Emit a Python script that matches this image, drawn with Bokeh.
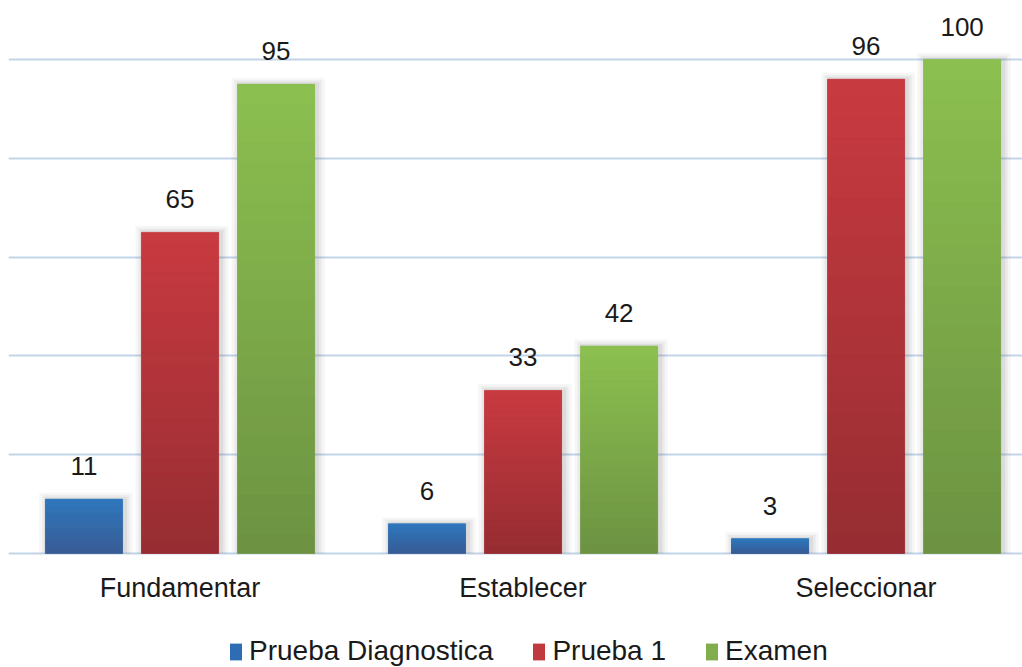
from bokeh.plotting import figure
from bokeh.models import (Range1d, FixedTicker, Grid, ColumnDataSource, LabelSet,
                          Legend, LegendItem)
from bokeh.core.properties import value
from bokeh.embed import file_html
from bokeh.resources import INLINE

categories = ["Fundamentar", "Establecer", "Seleccionar"]
series = ["Prueba Diagnostica", "Prueba 1", "Examen"]
prueba_diagnostica = [11, 6, 3]
prueba_1 = [65, 33, 96]
examen = [95, 42, 100]
grid_ticks = [0, 20, 40, 60, 80, 100]

values = [prueba_diagnostica, prueba_1, examen]
top_colors = [(47, 120, 190), (200, 58, 64), (140, 192, 80)]
bottom_colors = [(58, 92, 148), (150, 45, 50), (108, 146, 66)]
mid_colors = ["#2E6DB4", "#C0393F", "#80AE4C"]
offsets = [-0.28, 0.0, 0.28]
bar_w = 0.225
N = 24

FONT = "Liberation Sans"
TXT = "#1a1a1a"

p = figure(width=1022, height=667, output_backend="svg", toolbar_location=None,
           x_range=Range1d(0, 2.956), y_range=Range1d(-23.08, 109.92),
           x_axis_location=None, y_axis_location=None,
           min_border_left=8, min_border_right=0,
           min_border_top=10, min_border_bottom=0, outline_line_color=None)
p.xgrid.visible = False
p.ygrid.visible = False
p.add_layout(Grid(dimension=1, ticker=FixedTicker(ticks=grid_ticks),
                  grid_line_color="#C3D4E9", grid_line_width=2.2), "center")

def hexc(c):
    return "#%02x%02x%02x" % tuple(int(round(v)) for v in c)

legend_items = []
px_x = 1 / 343.0
px_y = 1 / 4.94
for s, (name, vals) in enumerate(zip(series, values)):
    xs = [i + 0.5 + offsets[s] for i in range(len(categories))]
    for dw, a in [(16, 0.05), (10, 0.07), (5, 0.09)]:
        p.vbar(x=[x + 2 * px_x for x in xs], width=bar_w + dw * px_x,
               top=[v + dw * 0.4 * px_y for v in vals], bottom=0,
               fill_color="#555555", fill_alpha=a, line_color=None)
    base = p.vbar(x=xs, width=bar_w, top=vals, bottom=0,
                  fill_color=mid_colors[s], line_color=None)
    legend_items.append(LegendItem(label=name, renderers=[base]))
    bx, bb, bt, bc = [], [], [], []
    for i, v in enumerate(vals):
        for k in range(N):
            f = (k + 0.5) / N
            col = [bottom_colors[s][j] + (top_colors[s][j] - bottom_colors[s][j]) * f for j in range(3)]
            bx.append(xs[i]); bb.append(v * k / N); bt.append(v * (k + 1) / N); bc.append(hexc(col))
    p.vbar(x=bx, width=bar_w, top=bt, bottom=bb, fill_color=bc, line_color=bc, line_width=0.6)
    src = ColumnDataSource(dict(x=xs, y=vals, t=[str(v) for v in vals]))
    p.add_layout(LabelSet(x="x", y="y", text="t", source=src, text_align="center",
                          text_baseline="alphabetic", y_offset=24, text_font=value(FONT),
                          text_font_size=value("26px"), text_color=TXT))

# category labels under the baseline
cat_src = ColumnDataSource(dict(x=[i + 0.5 for i in range(len(categories))],
                                y=[0] * len(categories), t=categories))
p.add_layout(LabelSet(x="x", y="y", text="t", source=cat_src, text_align="center",
                      text_baseline="alphabetic", y_offset=-44, text_font=value(FONT),
                      text_font_size=value("27px"), text_color=TXT))

legend = Legend(items=legend_items, orientation="horizontal", location=(220, 0),
                label_text_font=FONT, label_text_font_size="28px", label_text_color=TXT,
                glyph_width=15, glyph_height=21, label_standoff=6, spacing=38,
                padding=0, margin=0, border_line_color=None, background_fill_alpha=0)
p.add_layout(legend, "center")

open("out.html", "w").write(file_html(p, INLINE))
